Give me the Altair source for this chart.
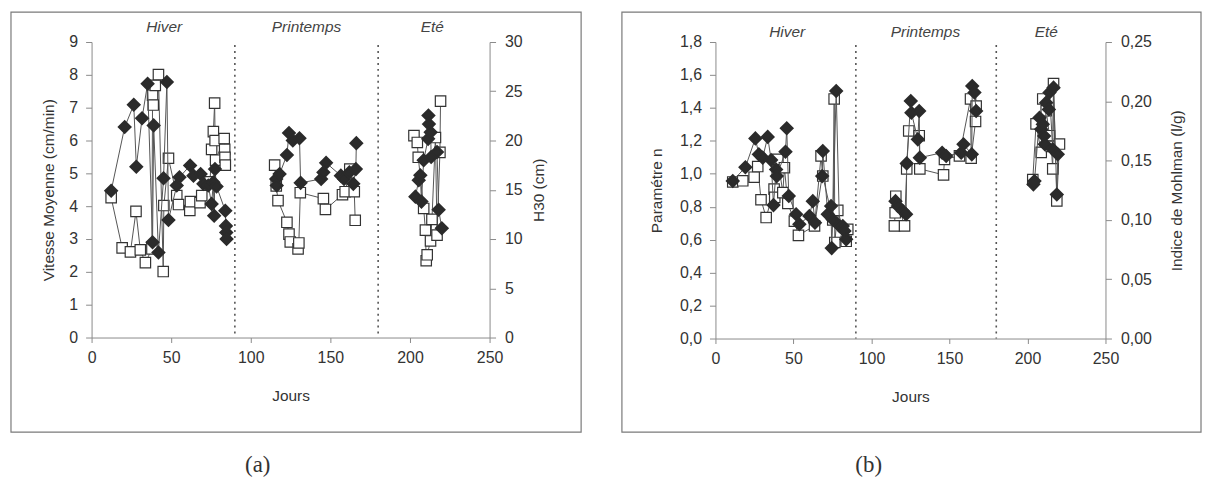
import altair as alt
import pandas as pd

# ---------------- Panel (a) ----------------
# Vitesse Moyenne (cm/min) - filled diamonds, left axis
a_vit_day = [12.3, 20.8, 26.5, 28.1, 31.7, 35.2, 38.3, 39.0, 42.0, 45.2, 47.3, 48.3, 53.5, 55.2,
             61.9, 64.0, 68.5, 70.2, 73.3, 75.4, 76.5, 77.0, 77.5, 78.5, 84.0, 84.4, 84.6, 84.8,
             116.0, 116.3, 118.1, 122.7, 124.0, 126.4, 130.6, 131.3, 144.2, 145.6, 147.3, 156.6,
             158.6, 161.9, 164.4, 166.0, 166.3,
             203.4, 205.5, 206.5, 207.2, 208.6, 211.4, 211.6, 211.9, 213.0, 213.3, 217.0, 218.0, 220.0]
a_vit = [4.47, 6.41, 7.09, 5.20, 6.68, 7.73, 2.90, 6.46, 2.59, 4.85, 7.78, 3.58, 4.63, 4.88,
         5.24, 4.93, 4.98, 4.68, 4.63, 4.07, 4.73, 3.71, 5.13, 4.60, 3.86, 3.40, 3.20, 3.00,
         4.83, 4.63, 4.98, 5.56, 6.23, 6.00, 6.07, 4.71, 4.83, 5.03, 5.32, 4.93,
         4.83, 5.03, 4.68, 5.13, 5.92,
         4.29, 4.79, 4.94, 4.14, 5.40, 6.05, 6.76, 6.50, 6.25, 5.50, 5.65, 3.89, 3.33]
# H30 (cm) - open squares, right axis
a_h30_day = [12.3, 19.2, 24.4, 27.9, 30.6, 33.8, 37.9, 38.3, 38.7, 40.0, 42.0, 45.0, 45.4, 48.3,
             53.5, 54.6, 61.7, 62.1, 68.1, 69.2, 74.4, 75.4, 76.5, 77.3, 77.6, 77.9, 83.3, 83.6,
             83.8, 84.0,
             115.0, 116.0, 117.1, 122.7, 124.0, 124.8, 129.7, 130.2, 131.1, 145.6, 146.9, 157.6,
             159.3, 162.2, 165.0, 165.6,
             202.5, 204.6, 205.2, 208.6, 209.7, 210.2, 210.8, 212.9, 213.8, 216.0, 217.0, 218.8, 219.2]
a_h30 = [14.2, 9.1, 8.7, 12.8, 8.9, 7.6, 9.0, 24.6, 23.6, 25.6, 26.7, 6.7, 13.4, 18.2,
         14.4, 13.5, 12.9, 13.8, 13.7, 14.4, 15.8, 19.1, 20.9, 23.8, 20.0, 18.0, 20.2, 19.1,
         18.3, 17.5,
         17.5, 15.4, 13.9, 11.7, 10.5, 9.7, 9.0, 9.6, 14.7, 14.1, 13.0, 14.5,
         14.8, 17.1, 14.8, 11.9,
         20.5, 19.8, 18.3, 13.1, 10.9, 7.8, 8.4, 9.8, 12.0, 20.3, 10.4, 18.8, 24.0]

# ---------------- Panel (b) ----------------
# Parametre n - filled diamonds, left axis
b_n_day = [11.1, 19.2, 25.6, 27.8, 30.3, 33.5, 35.7, 37.2, 38.9, 39.3, 44.9, 45.7, 47.0, 51.7,
           53.8, 60.2, 62.4, 63.8, 68.4, 68.8, 72.0, 74.1, 74.5, 75.2, 77.4, 79.5, 81.6, 82.7, 83.8,
           115.4, 116.9, 120.1, 122.2, 122.6, 125.2, 125.6, 129.7, 130.6, 131.0, 145.3, 147.9,
           157.5, 159.0, 164.3, 164.6, 166.0, 167.1,
           203.8, 204.5, 207.7, 208.8, 209.8, 210.7, 211.1, 212.0, 213.7, 214.1, 216.2, 216.7,
           218.8, 219.4]
b_n = [0.956, 1.040, 1.215, 1.118, 1.098, 1.224, 1.083, 0.810, 1.026, 0.986, 1.134, 1.276, 0.865,
       0.754, 0.694, 0.744, 0.834, 0.703, 0.986, 1.138, 0.754, 0.804, 0.549, 0.723, 1.503, 0.683,
       0.683, 0.653, 0.602,
       0.834, 0.804, 0.774, 0.754, 1.063, 1.442, 1.371, 1.209, 1.381, 1.098, 1.128, 1.108,
       1.128, 1.179, 1.118, 1.533, 1.493, 1.381,
       0.936, 0.956, 1.340, 1.270, 1.300, 1.229, 1.179, 1.432, 1.391, 1.493, 1.149, 1.523,
       0.874, 1.118]
# Indice de Mohlman (l/g) - open squares, right axis
b_moh_day = [11.1, 17.5, 24.8, 27.1, 29.2, 32.5, 37.6, 38.0, 40.0, 43.2, 44.2, 46.4, 50.6, 53.2,
             63.5, 67.7, 68.8, 75.2, 76.1, 76.5, 78.4, 83.8, 84.8,
             114.7, 115.2, 115.6, 121.2, 122.6, 123.9, 130.6, 131.0, 146.2, 146.8, 156.4, 163.5,
             163.9, 166.7, 167.1,
             203.4, 205.5, 208.8, 209.8, 212.0, 214.1, 215.2, 216.2, 216.7, 218.8, 220.5]
b_moh = [0.132, 0.133, 0.136, 0.145, 0.117, 0.102, 0.126, 0.119, 0.151, 0.123, 0.144, 0.114,
         0.099, 0.087, 0.095, 0.154, 0.137, 0.100, 0.202, 0.081, 0.108, 0.082, 0.092,
         0.095, 0.106, 0.120, 0.095, 0.143, 0.175, 0.171, 0.143, 0.138, 0.151, 0.154, 0.202,
         0.152, 0.183, 0.196,
         0.134, 0.181, 0.157, 0.202, 0.192, 0.171, 0.162, 0.143, 0.215, 0.116, 0.164]

season_names = ["Hiver", "Printemps", "Eté"]
season_limits = [90, 180]
x_ticks = [0, 50, 100, 150, 200, 250]

FONT = "Liberation Sans"
INK = "#333333"
AX = "#8a8a8a"


def season_of(d):
    if d < season_limits[0]:
        return season_names[0]
    if d < season_limits[1]:
        return season_names[1]
    return season_names[2]


def frame_df(days, vals):
    return pd.DataFrame({"day": days, "v": vals, "season": [season_of(d) for d in days]})


def panel(dia_day, dia_val, sq_day, sq_val, left_dom, left_ticks, left_title, left_expr,
          right_dom, right_ticks, right_title, right_expr, width, height,
          label_days, label_dy, tag, tag_x, fr, left_tp, right_tp):
    xenc = alt.X("day:Q", scale=alt.Scale(domain=[0, 250], nice=False),
                 axis=alt.Axis(values=x_ticks, title="Jours", tickSize=5, labelPadding=7,
                               titlePadding=23, labelFlush=False))

    sq = alt.Chart(frame_df(sq_day, sq_val)).mark_line(
        color="#555555", strokeWidth=1,
        point=alt.OverlayMarkDef(shape="square", filled=True, fill="white", stroke=INK,
                                 strokeWidth=1.2, size=110, opacity=1)
    ).encode(
        x=xenc,
        y=alt.Y("v:Q", scale=alt.Scale(domain=right_dom, nice=False),
                axis=alt.Axis(orient="right", values=right_ticks, title=right_title,
                              labelExpr=right_expr, tickSize=6, labelPadding=9,
                              titlePadding=right_tp, titleAngle=270, titleBaseline="top")),
        detail="season:N",
    )

    dia = alt.Chart(frame_df(dia_day, dia_val)).mark_line(
        color="#555555", strokeWidth=1,
        point=alt.OverlayMarkDef(shape="diamond", filled=True, fill="#2b2b2b", stroke="#2b2b2b",
                                 size=140, opacity=1)
    ).encode(
        x=xenc,
        y=alt.Y("v:Q", scale=alt.Scale(domain=left_dom, nice=False),
                axis=alt.Axis(orient="left", values=left_ticks, title=left_title,
                              labelExpr=left_expr, tickSize=6, labelPadding=8,
                              titlePadding=left_tp)),
        detail="season:N",
    )

    rules = alt.Chart(pd.DataFrame({"day": season_limits})).mark_rule(
        color="#555555", strokeWidth=1.6, strokeDash=[2, 4]
    ).encode(x=xenc, y=alt.value(3), y2=alt.value(height))

    labels = alt.Chart(pd.DataFrame({"day": label_days, "name": season_names})).mark_text(
        font=FONT, fontSize=15.5, fontStyle="italic", color="#444444", baseline="middle"
    ).encode(x=xenc, y=alt.value(label_dy), text="name:N")

    box = alt.Chart(pd.DataFrame({"k": [1]})).mark_rect(
        filled=False, stroke="#7a7a7a", strokeWidth=1.2
    ).encode(x=alt.value(fr[0]), x2=alt.value(fr[1]), y=alt.value(fr[2]), y2=alt.value(fr[3]))

    tagc = alt.Chart(pd.DataFrame({"t": [tag]})).mark_text(
        font="Liberation Serif", fontSize=23, color="#333333", baseline="middle"
    ).encode(x=alt.value(tag_x), y=alt.value(425), text="t:N")

    return alt.layer(box, rules, labels, sq, dia, tagc).resolve_scale(y="independent").properties(
        width=width, height=height)


pa = panel(a_vit_day, a_vit, a_h30_day, a_h30,
           [0, 9], list(range(0, 10)), "Vitesse Moyenne (cm/min)", "format(datum.value, 'd')",
           [0, 30], [0, 5, 10, 15, 20, 25, 30], "H30 (cm)", "format(datum.value, 'd')",
           400, 297, [45.6, 135, 214], -15, "(a)", 167, (-81, 492, -30, 392), 12, 9)

pb = panel(b_n_day, b_n, b_moh_day, b_moh,
           [0, 1.8], [0, 0.2, 0.4, 0.6, 0.8, 1.0, 1.2, 1.4, 1.6, 1.8], "Paramétre n",
           "replace(format(datum.value, '.1f'), '.', ',')",
           [0, 0.25], [0, 0.05, 0.1, 0.15, 0.2, 0.25], "Indice de Mohlman (l/g)",
           "replace(format(datum.value, '.2f'), '.', ',')",
           392, 298, [46, 134.6, 212], -10, "(b)", 154, (-94, 488, -30, 392), 15, 18)

chart = alt.hconcat(pa, pb, spacing=39).properties(
    padding={"left": 2, "top": 2, "right": 0, "bottom": 0},
    background="white",
).configure_view(stroke=None).configure_axis(
    labelFont=FONT, labelFontSize=16, labelColor=INK,
    titleFont=FONT, titleFontSize=15.5, titleFontWeight="normal", titleColor=INK,
    domainColor=AX, tickColor=AX, grid=False, domainWidth=1, tickWidth=1,
)

chart.save("out.html", embed_options={"renderer": "svg", "actions": False})
